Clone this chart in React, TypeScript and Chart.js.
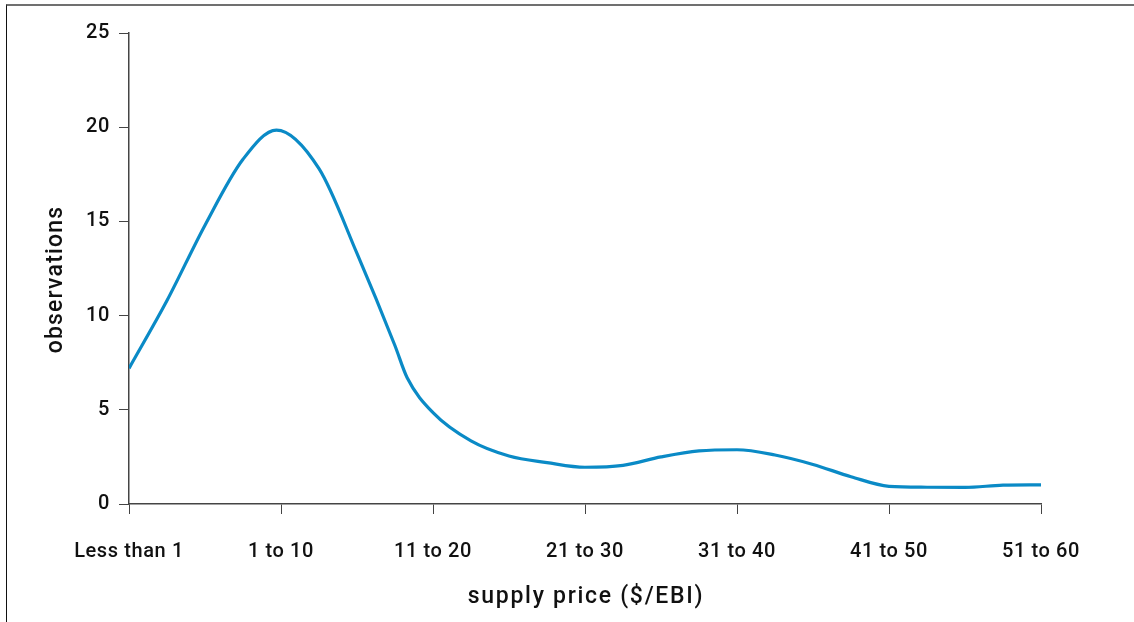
import React, { useEffect, useRef } from "react";
import { Chart, registerables } from "chart.js";

Chart.register(...registerables);

const categories = ["Less than 1", "1 to 10", "11 to 20", "21 to 30", "31 to 40", "41 to 50", "51 to 60"];
const yTicks = [0, 5, 10, 15, 20, 25];
const xTitle = "supply price ($/EBI)";
const yTitle = "observations";
// position along the category axis (0 = "Less than 1", 6 = "51 to 60")
const positions = [0, 0.25, 0.5, 0.75, 0.97, 1.25, 1.5, 1.75, 1.83, 2.0, 2.25, 2.5, 2.75, 3.0, 3.25, 3.5, 3.75, 4.0, 4.25, 4.5, 4.75, 5.0, 5.25, 5.5, 5.75, 6.0];
const observations = [7.2, 10.8, 14.8, 18.3, 19.85, 17.8, 13.3, 8.4, 6.7, 4.85, 3.35, 2.55, 2.2, 1.95, 2.05, 2.5, 2.82, 2.88, 2.6, 2.1, 1.45, 0.94, 0.89, 0.88, 1.0, 1.02];

const FONT = "Roboto, 'DejaVu Sans', sans-serif";

const titlePlugin = {
  id: "axisTitles",
  beforeDraw(chart: any) {
    chart.ctx.letterSpacing = "0.6px";
  },
  afterDraw(chart: any) {
    const { ctx, scales } = chart;
    const xs = scales.x;
    const ys = scales.y;
    ctx.save();
    ctx.fillStyle = "#111";
    ctx.font = `500 23px ${FONT}`;
    ctx.letterSpacing = "1.7px";
    ctx.textAlign = "center";
    ctx.textBaseline = "alphabetic";
    ctx.fillText(xTitle, (xs.left + xs.right) / 2 + 1, 603);
    ctx.letterSpacing = "1.2px";
    ctx.translate(62, (ys.top + ys.bottom) / 2 + 11);
    ctx.rotate(-Math.PI / 2);
    ctx.fillText(yTitle, 0, 0);
    ctx.restore();
  },
};

export default function App() {
  const ref = useRef<HTMLCanvasElement | null>(null);
  useEffect(() => {
    if (!ref.current) return;
    const chart = new Chart(ref.current, {
      type: "line",
      data: {
        datasets: [
          {
            data: positions.map((p, i) => ({ x: p, y: observations[i] })),
            borderColor: "#0a8ac6",
            borderWidth: 3.2,
            pointRadius: 0,
            fill: false,
            cubicInterpolationMode: "monotone",
          },
        ],
      },
      options: {
        animation: false,
        responsive: false,
        events: [],
        layout: { padding: { left: 0, right: 93, top: 33, bottom: 0 } },
        plugins: { legend: { display: false }, tooltip: { enabled: false } },
        scales: {
          x: {
            type: "linear",
            min: 0,
            max: categories.length - 1,
            afterBuildTicks: (scale: any) => {
              scale.ticks = categories.map((_, i) => ({ value: i }));
            },
            afterFit: (scale: any) => {
              scale.height = 118;
            },
            ticks: {
              callback: (v: any) => categories[Number(v)] ?? "",
              color: "#111",
              font: { family: FONT, size: 20, weight: 500 },
              padding: 26,
              maxRotation: 0,
              autoSkip: false,
            },
            grid: { drawOnChartArea: false, drawTicks: true, tickLength: 10, color: "#444", lineWidth: 1 },
            border: { color: "#444", width: 1.5 },
          },
          y: {
            type: "linear",
            min: 0,
            max: 25,
            afterBuildTicks: (scale: any) => {
              scale.ticks = yTicks.map((v) => ({ value: v }));
            },
            afterFit: (scale: any) => {
              scale.width = 129;
            },
            ticks: {
              color: "#111",
              font: { family: FONT, size: 20, weight: 500 },
              padding: 9,
            },
            grid: { drawOnChartArea: false, drawTicks: true, tickLength: 10, color: "#444", lineWidth: 1 },
            border: { color: "#444", width: 1.5 },
          },
        },
      },
      plugins: [titlePlugin],
    });
    return () => chart.destroy();
  }, []);

  return (
    <div style={{ position: "absolute", left: 0, top: 0, width: 1134, height: 622, background: "#fff" }}>
      <div
        style={{
          position: "absolute",
          left: 6,
          top: 4,
          right: 0,
          bottom: 0,
          borderTop: "2px solid #707070",
          borderLeft: "1px solid #111",
        }}
      />
      <canvas ref={ref} width={1134} height={622} style={{ position: "absolute", left: 0, top: 0 }} />
    </div>
  );
}
